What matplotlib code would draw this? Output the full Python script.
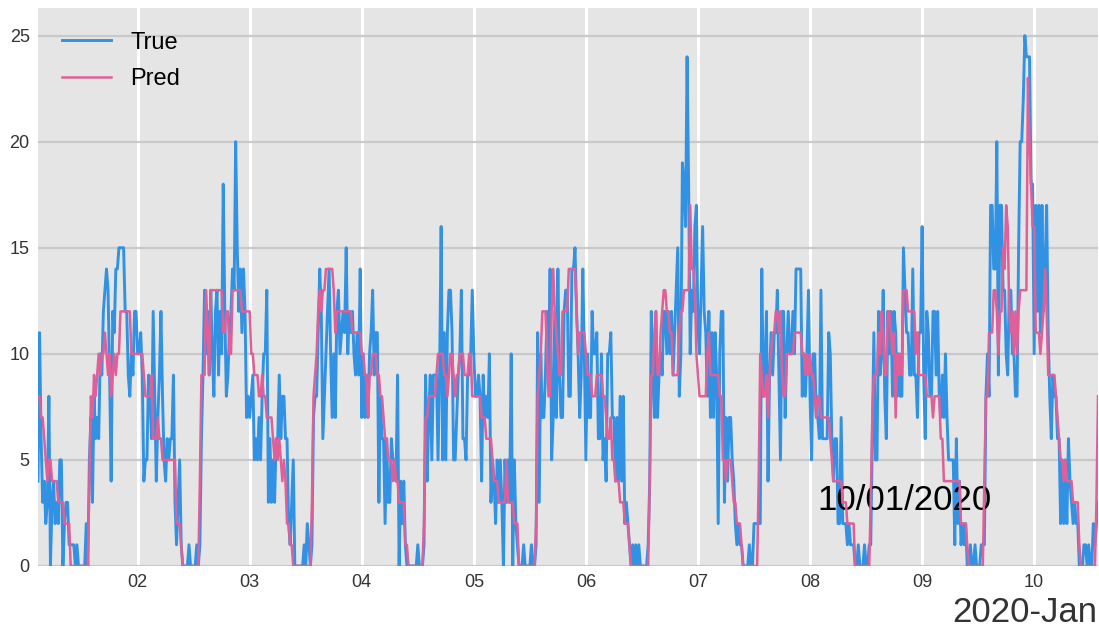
import numpy as np
import pandas as pd
import matplotlib
matplotlib.use("Agg")
import matplotlib.pyplot as plt
import matplotlib.dates as mdates

plt.rcParams['font.family'] = ['Liberation Sans', 'DejaVu Sans']

# 20-minute samples, first one at 2020-01-01 02:40
start_time = "2020-01-01 02:40"

# day 1 starts at 02:40, the others at 00:00 (three values per hour)
true_d01 = [4,
            11, 6, 3, 4, 2, 3, 8, 0, 3, 4, 2, 3, 2, 5, 5, 0, 2, 3, 3, 1, 1,
            1, 1, 0, 1, 0, 0, 0, 0, 0, 2, 0, 5, 7, 3, 8, 6, 7, 6, 10, 9, 12,
            13, 14, 13, 9, 4, 12, 11, 14, 14, 15, 15, 15, 15, 12, 12, 9, 8, 10, 9, 12, 12]
pred_d01 = [8,
            8, 7, 7, 6, 5, 4, 5, 5, 4, 4, 4, 4, 3, 3, 3, 3, 2, 2, 2, 2, 0,
            0, 0, 0, 0, 0, 0, 0, 0, 0, 0, 0, 4, 8, 7, 9, 8, 9, 10, 9, 10, 10,
            11, 10, 9, 10, 8, 9, 10, 9, 10, 10, 12, 12, 12, 12, 12, 12, 12, 10, 10, 10, 10]

true_d02 = [10, 10, 11, 9, 4, 5, 5, 9, 8, 6, 12, 8, 4, 7, 9, 12, 8, 5, 4, 6, 5, 6, 6, 9,
            3, 1, 3, 5, 1, 0, 0, 0, 0, 1, 0, 0, 0, 0, 1, 0, 1, 6, 9, 13, 10, 12, 9, 13,
            10, 8, 12, 13, 9, 12, 10, 18, 12, 8, 9, 11, 12, 14, 13, 20, 15, 12, 14, 11, 14, 12, 7, 8]
pred_d02 = [10, 10, 10, 10, 9, 8, 8, 8, 8, 9, 6, 6, 6, 7, 6, 6, 5, 5, 5, 5, 5, 5, 5, 5,
            5, 2, 2, 2, 1, 0, 0, 0, 0, 0, 0, 0, 0, 0, 0, 0, 4, 9, 9, 9, 13, 11, 9, 13,
            13, 13, 13, 13, 13, 13, 13, 11, 11, 12, 12, 10, 10, 13, 13, 13, 13, 13, 13, 12, 12, 12, 12, 12]

true_d03 = [7, 8, 9, 5, 6, 5, 7, 5, 8, 10, 10, 13, 3, 6, 3, 5, 3, 6, 6, 9, 6, 8, 8, 6,
            6, 2, 1, 3, 5, 0, 0, 0, 0, 0, 0, 1, 0, 2, 1, 0, 1, 7, 8, 8, 11, 14, 12, 6,
            8, 10, 12, 14, 10, 7, 10, 7, 12, 13, 10, 11, 12, 11, 15, 10, 12, 11, 12, 10, 9, 11, 9, 14]
pred_d03 = [12, 10, 10, 9, 9, 9, 8, 8, 9, 8, 8, 7, 7, 7, 7, 6, 5, 6, 5, 6, 5, 4, 5, 4,
            2, 2, 1, 1, 0, 0, 0, 0, 0, 0, 0, 0, 0, 0, 0, 0, 3, 8, 9, 10, 12, 13, 12, 13,
            13, 14, 14, 14, 14, 14, 13, 11, 12, 12, 12, 12, 12, 12, 12, 12, 12, 12, 11, 11, 11, 11, 11, 11]

true_d04 = [7, 10, 7, 9, 7, 10, 11, 13, 9, 11, 11, 3, 8, 6, 6, 2, 6, 3, 3, 6, 5, 5, 4, 9,
            0, 4, 2, 4, 1, 0, 0, 0, 0, 0, 0, 0, 1, 0, 0, 0, 1, 9, 4, 7, 9, 5, 9, 9,
            9, 5, 9, 16, 5, 11, 5, 11, 13, 13, 11, 5, 5, 7, 9, 10, 13, 6, 6, 5, 9, 9, 10, 13]
pred_d04 = [10, 10, 9, 9, 7, 9, 9, 10, 10, 10, 9, 9, 8, 8, 7, 6, 6, 5, 5, 5, 4, 5, 4, 4,
            3, 3, 3, 3, 1, 1, 0, 0, 0, 0, 0, 0, 0, 0, 0, 0, 2, 7, 7, 8, 8, 8, 8, 8,
            9, 10, 10, 10, 10, 9, 9, 8, 9, 10, 10, 9, 8, 9, 9, 10, 10, 10, 9, 9, 9, 10, 10, 8]

true_d05 = [10, 8, 8, 9, 8, 4, 9, 7, 8, 7, 10, 3, 5, 4, 2, 5, 3, 5, 3, 0, 5, 3, 5, 3,
            10, 0, 5, 2, 1, 0, 0, 0, 1, 0, 0, 0, 0, 1, 0, 0, 1, 11, 3, 10, 7, 7, 9, 12,
            9, 14, 5, 7, 12, 7, 14, 9, 7, 7, 12, 13, 13, 8, 8, 14, 14, 15, 12, 10, 7, 9, 14, 10]
pred_d05 = [8, 8, 8, 8, 8, 7, 7, 7, 6, 6, 6, 6, 5, 4, 4, 4, 3, 3, 3, 3, 3, 5, 3, 3,
            3, 3, 2, 2, 2, 0, 0, 0, 0, 0, 0, 0, 0, 0, 0, 0, 2, 8, 9, 10, 12, 12, 12, 10,
            8, 8, 12, 14, 12, 11, 10, 9, 9, 12, 12, 12, 12, 14, 14, 14, 14, 14, 12, 10, 11, 11, 11, 11]

true_d06 = [5, 10, 7, 7, 12, 10, 10, 11, 6, 6, 10, 5, 6, 4, 10, 10, 11, 7, 7, 4, 7, 4, 8, 4,
            8, 2, 3, 2, 1, 0, 1, 0, 1, 0, 1, 0, 0, 0, 0, 0, 1, 4, 12, 9, 7, 12, 7, 9,
            10, 9, 12, 12, 10, 12, 10, 12, 9, 11, 13, 15, 8, 10, 19, 18, 16, 24, 18, 10, 13, 12, 16, 17]
pred_d06 = [10, 9, 9, 9, 8, 8, 8, 9, 9, 9, 9, 8, 8, 7, 6, 6, 7, 5, 5, 4, 4, 4, 3, 3,
            3, 2, 2, 2, 1, 0, 0, 0, 0, 0, 0, 0, 0, 0, 0, 0, 0, 4, 9, 9, 11, 12, 9, 9,
            11, 12, 13, 13, 12, 12, 11, 11, 9, 9, 9, 9, 11, 12, 12, 13, 13, 13, 13, 17, 14, 14, 13, 10]

true_d07 = [11, 10, 13, 16, 12, 11, 8, 12, 7, 11, 7, 11, 9, 2, 10, 12, 12, 3, 7, 4, 7, 7, 5, 4,
            2, 1, 2, 1, 1, 0, 0, 0, 0, 1, 0, 0, 2, 2, 2, 2, 2, 14, 8, 9, 12, 4, 9, 11,
            9, 11, 11, 13, 9, 5, 12, 12, 7, 10, 12, 10, 10, 12, 10, 14, 14, 14, 14, 8, 10, 8, 10, 13]
pred_d07 = [9, 8, 8, 8, 8, 8, 10, 11, 9, 9, 9, 9, 9, 9, 8, 8, 5, 5, 4, 5, 5, 5, 4, 3,
            3, 2, 2, 2, 1, 0, 0, 0, 0, 0, 0, 0, 0, 0, 0, 4, 10, 9, 8, 8, 9, 7, 9, 10,
            11, 11, 12, 12, 11, 12, 9, 8, 8, 10, 10, 10, 10, 10, 11, 11, 11, 11, 11, 10, 10, 9, 10, 9]

true_d08 = [8, 5, 10, 10, 7, 7, 6, 13, 6, 6, 6, 6, 11, 10, 6, 4, 6, 6, 2, 2, 7, 2, 2, 2,
            1, 2, 1, 1, 1, 0, 0, 1, 0, 0, 0, 1, 0, 0, 1, 1, 6, 11, 5, 5, 12, 9, 10, 13,
            8, 6, 12, 10, 12, 8, 12, 11, 8, 10, 8, 8, 15, 13, 11, 11, 9, 9, 14, 9, 9, 7, 11, 11]
pred_d08 = [10, 9, 9, 8, 7, 8, 8, 7, 7, 7, 7, 7, 7, 6, 5, 4, 4, 4, 4, 4, 4, 3, 3, 3,
            2, 2, 2, 2, 2, 0, 0, 0, 0, 0, 0, 0, 0, 0, 0, 3, 7, 9, 9, 9, 11, 10, 12, 11,
            9, 9, 12, 12, 11, 10, 11, 7, 10, 9, 10, 9, 13, 13, 13, 12, 12, 12, 12, 12, 10, 11, 9, 9]

true_d09 = [16, 9, 6, 12, 11, 8, 8, 12, 12, 9, 12, 8, 7, 9, 7, 10, 7, 5, 5, 5, 5, 1, 6, 2,
            4, 1, 2, 1, 2, 0, 0, 1, 0, 0, 1, 0, 0, 0, 1, 1, 1, 8, 10, 8, 17, 17, 14, 14,
            20, 9, 17, 17, 13, 13, 10, 9, 13, 13, 10, 10, 8, 8, 15, 20, 20, 22, 25, 24, 24, 24, 18, 18]
pred_d09 = [9, 9, 9, 8, 8, 8, 8, 7, 8, 8, 8, 8, 6, 6, 4, 4, 4, 4, 4, 4, 4, 4, 4, 4,
            4, 2, 2, 2, 2, 1, 0, 0, 0, 0, 0, 0, 0, 0, 0, 0, 4, 8, 8, 11, 11, 11, 13, 13,
            12, 10, 12, 12, 15, 14, 17, 16, 12, 11, 12, 10, 12, 10, 12, 13, 13, 13, 13, 13, 23, 20, 18, 16]

# day 10 runs 00:00 - 13:40
true_d10 = [10, 17, 12, 17, 11, 17, 12, 14, 17, 11, 8, 6, 9, 8, 8, 6, 6, 2, 5, 2, 5,
            2, 6, 4, 3, 2, 3, 2, 2, 0, 0, 0, 1, 1, 0, 1, 0, 0, 2, 1, 2, 3]
pred_d10 = [16, 11, 11, 11, 10, 11, 12, 14, 12, 9, 9, 9, 9, 9, 8, 7, 6, 5, 5, 4, 5,
            4, 4, 4, 4, 3, 3, 3, 3, 1, 0, 0, 0, 0, 0, 0, 0, 0, 0, 0, 3, 8]

true_vals = (true_d01 + true_d02 + true_d03 + true_d04 + true_d05
             + true_d06 + true_d07 + true_d08 + true_d09 + true_d10)
pred_vals = (pred_d01 + pred_d02 + pred_d03 + pred_d04 + pred_d05
             + pred_d06 + pred_d07 + pred_d08 + pred_d09 + pred_d10)
assert len(true_vals) == len(pred_vals)

times = pd.date_range(start_time, periods=len(true_vals), freq="20min")

fig = plt.figure(figsize=(10.99, 6.31), dpi=100)
ax = fig.add_axes([38 / 1099, 65 / 631, 1060 / 1099, 558 / 631])
ax.set_facecolor('#e5e5e5')

ax.plot(times, true_vals, color='#3192e4', lw=2.1, label='True', zorder=3)
ax.plot(times, pred_vals, color='#df5f98', lw=1.8, label='Pred', zorder=4)

ax.set_xlim(times[0], times[-1])
ax.set_ylim(0, 26.3)
ax.set_yticks([0, 5, 10, 15, 20, 25])

ax.xaxis.set_major_locator(mdates.DayLocator())
ax.xaxis.set_major_formatter(mdates.DateFormatter('%d'))

# gray horizontal grid, white vertical grid
ax.yaxis.grid(True, color='#c9c9c9', lw=1.6, zorder=1)
ax.xaxis.grid(True, color='white', lw=2.2, zorder=1)
ax.set_axisbelow(True)
for s in ax.spines.values():
    s.set_visible(False)
ax.tick_params(axis='both', length=0, labelsize=13, labelcolor='#333333')
ax.tick_params(axis='x', pad=6)
ax.tick_params(axis='y', pad=6)

ax.legend(loc='upper left', frameon=False, fontsize=17, handlelength=2.1,
          handletextpad=0.8, labelspacing=0.6, borderaxespad=0.6)

ax.text(pd.Timestamp("2020-01-08 01:30"), 3.1, '10/01/2020', fontsize=25,
        color='black', ha='left', va='center')
fig.text(0.998, 1 - 612 / 631, '2020-Jan', fontsize=25, color='#333333',
         ha='right', va='center')

fig.savefig('out.png', dpi=100)
